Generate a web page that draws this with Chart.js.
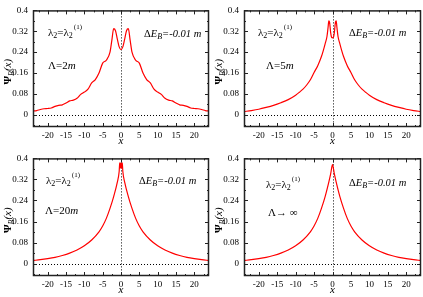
<!DOCTYPE html>
<html>
<head>
<meta charset="utf-8">
<script src="https://cdn.jsdelivr.net/npm/chart.js@4"></script>
<style>
  body { margin: 0; background: #fff; }
  #wrap { position: relative; width: 423px; height: 297px; }
  canvas { position: absolute; }
</style>
</head>
<body>
<div id="wrap">
  <canvas id="c1" width="211" height="148" style="left:0;top:0"></canvas>
  <canvas id="c2" width="212" height="148" style="left:211px;top:0"></canvas>
  <canvas id="c3" width="211" height="149" style="left:0;top:148px"></canvas>
  <canvas id="c4" width="212" height="149" style="left:211px;top:148px"></canvas>
</div>
<script>
const xTicks = [-20, -15, -10, -5, 0, 5, 10, 15, 20]
const yTicks = [0, 0.08, 0.16, 0.24, 0.32, 0.4]

// Lambda = 2m
const xs2m = [-24, -23, -22, -21, -20, -19, -18, -17, -16, -15, -14, -13, -12, -11, -10, -9, -8, -7, -6, -5, -4, -3, -2.5, -2, -1.5, -1, -0.5, 0,
  0.5, 1, 1.5, 2, 2.5, 3, 4, 5, 6, 7, 8, 9, 10, 11, 12, 13, 14, 15, 16, 17, 18, 19, 20, 21, 22, 23, 24]
const psi2m = [0.014, 0.016, 0.020, 0.023, 0.024, 0.026, 0.032, 0.036, 0.038, 0.045, 0.053, 0.056, 0.063, 0.078, 0.087, 0.098, 0.122, 0.135, 0.160, 0.198, 0.209, 0.240, 0.285, 0.330, 0.322, 0.290, 0.260, 0.250,
  0.260, 0.290, 0.322, 0.330, 0.285, 0.240, 0.209, 0.198, 0.160, 0.135, 0.122, 0.098, 0.087, 0.078, 0.063, 0.056, 0.053, 0.045, 0.038, 0.036, 0.032, 0.026, 0.024, 0.023, 0.020, 0.016, 0.014]

// Lambda = 5m
const xs5m = [-24, -22, -20, -18, -16, -14, -12, -10, -9, -8, -7, -6, -5, -4, -3, -2.5, -2, -1.5, -1.2, -1, -0.8, -0.5, -0.2, 0,
  0.2, 0.5, 0.8, 1, 1.2, 1.5, 2, 2.5, 3, 4, 5, 6, 7, 8, 9, 10, 12, 14, 16, 18, 20, 22, 24]
const psi5m = [0.012, 0.016, 0.021, 0.028, 0.036, 0.046, 0.058, 0.075, 0.086, 0.098, 0.114, 0.134, 0.162, 0.188, 0.223, 0.246, 0.272, 0.300, 0.335, 0.360, 0.355, 0.315, 0.296, 0.295,
  0.296, 0.315, 0.355, 0.360, 0.335, 0.300, 0.272, 0.246, 0.223, 0.188, 0.162, 0.134, 0.114, 0.098, 0.086, 0.075, 0.058, 0.046, 0.036, 0.028, 0.021, 0.016, 0.012]

// Lambda = 20m
const xs20m = [-24, -22, -20, -18, -16, -14, -12, -10, -8, -6, -5, -4, -3, -2, -1, -0.5, -0.35, -0.2, -0.1, 0,
  0.1, 0.2, 0.35, 0.5, 1, 2, 3, 4, 5, 6, 8, 10, 12, 14, 16, 18, 20, 22, 24]
const psi20m = [0.012, 0.015, 0.019, 0.024, 0.031, 0.040, 0.052, 0.068, 0.090, 0.121, 0.143, 0.172, 0.210, 0.255, 0.310, 0.350, 0.383, 0.362, 0.383, 0.366,
  0.383, 0.362, 0.383, 0.350, 0.310, 0.255, 0.210, 0.172, 0.143, 0.121, 0.090, 0.068, 0.052, 0.040, 0.031, 0.024, 0.019, 0.015, 0.012]

// Lambda -> infinity
const xsInf = [-24, -22, -20, -18, -16, -14, -12, -10, -8, -6, -5, -4, -3, -2, -1, -0.5, 0,
  0.5, 1, 2, 3, 4, 5, 6, 8, 10, 12, 14, 16, 18, 20, 22, 24]
const psiInf = [0.012, 0.015, 0.019, 0.024, 0.031, 0.040, 0.052, 0.068, 0.090, 0.121, 0.143, 0.172, 0.210, 0.255, 0.310, 0.341, 0.376,
  0.341, 0.310, 0.255, 0.210, 0.172, 0.143, 0.121, 0.090, 0.068, 0.052, 0.040, 0.031, 0.024, 0.019, 0.015, 0.012]

const serif = '"Liberation Serif", "DejaVu Serif", serif'
const big = `11px ${serif}`
const it = `italic 11px ${serif}`
const sub = `8px ${serif}`
const subIt = `italic 8px ${serif}`
const sup = `7px ${serif}`

function rich(ctx, x, y, parts) {
  let cx = x
  for (const p of parts) {
    ctx.font = p.font
    ctx.fillText(p.t, cx, y + (p.dy || 0))
    cx += ctx.measureText(p.t).width + (p.gap || 0)
  }
  return cx - x
}

const lambdaLabel = [
  { t: "λ", font: big }, { t: "2", font: sub, dy: 3 }, { t: "=λ", font: big },
  { t: "2", font: sub, dy: 3, gap: 1 }, { t: "(1)", font: sup, dy: -6 }
]
const energyLabel = [
  { t: "Δ", font: `10.5px ${serif}` }, { t: "E", font: `italic 10.5px ${serif}` },
  { t: "B", font: subIt, dy: 3 }, { t: "=-0.01 m", font: `italic 10.5px ${serif}` }
]

const decor = {
  id: "decor",
  beforeDatasetsDraw(chart) {
    const { ctx, chartArea: a, scales: { x, y } } = chart
    const x0 = Math.round(x.getPixelForValue(0)) + 0.5
    const y0 = Math.round(y.getPixelForValue(0)) + 0.5
    ctx.save()
    ctx.strokeStyle = "#000"
    ctx.lineWidth = 1
    ctx.setLineDash([1, 2])
    ctx.beginPath()
    ctx.moveTo(x0, a.top)
    ctx.lineTo(x0, a.bottom)
    ctx.moveTo(a.left, y0)
    ctx.lineTo(a.right, y0)
    ctx.stroke()
    ctx.restore()
  },
  afterDatasetsDraw(chart, args, opts) {
    const { ctx, chartArea: a, scales: { x, y } } = chart
    ctx.save()
    ctx.strokeStyle = "#222"
    ctx.lineWidth = 1

    // inward ticks, gnuplot style
    ctx.beginPath()
    for (let v = -22.5; v <= 22.5; v += 2.5) {
      const px = Math.round(x.getPixelForValue(v)) + 0.5
      const len = v % 5 === 0 ? 4 : 2
      ctx.moveTo(px, a.bottom)
      ctx.lineTo(px, a.bottom - len)
      ctx.moveTo(px, a.top)
      ctx.lineTo(px, a.top + len)
    }
    for (let i = -1; i <= 10; i++) {
      const v = i * 0.04
      const py = Math.round(y.getPixelForValue(v)) + 0.5
      const len = i % 2 === 0 ? 4 : 2
      ctx.moveTo(a.left, py)
      ctx.lineTo(a.left + len, py)
      ctx.moveTo(a.right, py)
      ctx.lineTo(a.right - len, py)
    }
    ctx.stroke()

    ctx.lineWidth = 1.5
    ctx.strokeRect(a.left + 0.5, a.top + 0.5, a.width - 1, a.height - 1)

    // y title: Psi_B(x)
    ctx.fillStyle = "#000"
    ctx.textBaseline = "alphabetic"
    ctx.translate(11, (a.top + a.bottom) / 2 + 3)
    ctx.rotate(-Math.PI / 2)
    const title = [
      { t: "Ψ", font: `bold 11px ${serif}` }, { t: "B", font: subIt, dy: 3 }, { t: "(x)", font: it }
    ]
    ctx.globalAlpha = 0
    const w = rich(ctx, 0, 0, title)
    ctx.globalAlpha = 1
    rich(ctx, -w / 2, 0, title)
    ctx.setTransform(1, 0, 0, 1, 0, 0)

    // annotations
    ctx.textBaseline = "middle"
    rich(ctx, opts.lambdaAt[0], opts.lambdaAt[1], lambdaLabel)
    rich(ctx, opts.energyAt[0], opts.energyAt[1], energyLabel)
    rich(ctx, opts.cutoffAt[0], opts.cutoffAt[1], opts.cutoff)
    ctx.restore()
  }
}

function makePanel(id, xs, ys, labels) {
  const tickFont = { family: serif, size: 9 }
  return new Chart(document.getElementById(id), {
    type: "line",
    data: {
      datasets: [{
        data: xs.map((v, i) => ({ x: v, y: ys[i] })),
        borderColor: "#ff0000",
        borderWidth: 1.2,
        pointRadius: 0,
        fill: false,
        cubicInterpolationMode: "monotone"
      }]
    },
    options: {
      responsive: false,
      animation: false,
      devicePixelRatio: 1,
      layout: { padding: { top: 5, right: 2, left: 0, bottom: 0 } },
      scales: {
        x: {
          type: "linear",
          min: -24,
          max: 24,
          afterBuildTicks: (s) => { s.ticks = xTicks.map((v) => ({ value: v })) },
          afterFit: (s) => { s.height = 21 },
          ticks: { font: tickFont, color: "#000", padding: 3, maxRotation: 0, autoSkip: false },
          grid: { display: false, drawTicks: false },
          border: { display: false },
          title: { display: true, text: "x", color: "#000", padding: 0, font: { family: serif, size: 11, style: "italic" } }
        },
        y: {
          min: -0.047,
          max: 0.4,
          afterBuildTicks: (s) => { s.ticks = yTicks.map((v) => ({ value: v })) },
          afterFit: (s) => { s.width = 33 },
          ticks: { font: tickFont, color: "#000", padding: 5, callback: (v) => String(v) },
          grid: { display: false, drawTicks: false },
          border: { display: false }
        }
      },
      plugins: {
        legend: { display: false },
        tooltip: { enabled: false },
        decor: labels
      }
    },
    plugins: [decor]
  })
}

makePanel("c1", xs2m, psi2m, {
  lambdaAt: [48, 33], energyAt: [144, 34], cutoffAt: [48, 66],
  cutoff: [{ t: "Λ=2", font: big }, { t: "m", font: it }]
})
makePanel("c2", xs5m, psi5m, {
  lambdaAt: [47, 33], energyAt: [138, 33], cutoffAt: [55, 66],
  cutoff: [{ t: "Λ=5", font: big }, { t: "m", font: it }]
})
makePanel("c3", xs20m, psi20m, {
  lambdaAt: [46, 33], energyAt: [139, 33], cutoffAt: [45, 63],
  cutoff: [{ t: "Λ=20", font: big }, { t: "m", font: it }]
})
makePanel("c4", xsInf, psiInf, {
  lambdaAt: [55, 37], energyAt: [138, 35], cutoffAt: [57, 65],
  cutoff: [{ t: "Λ", font: big }, { t: "→ ∞", font: big }]
})
</script>
</body>
</html>
